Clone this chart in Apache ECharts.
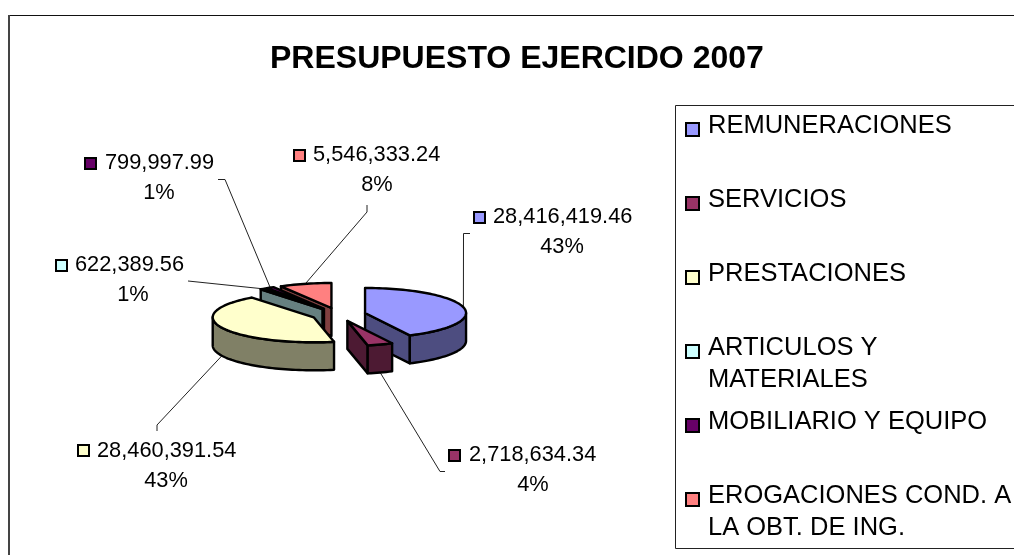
<!DOCTYPE html>
<html>
<head>
<meta charset="utf-8">
<style>
  html, body { margin: 0; padding: 0; background: #fff; }
  #chart { width: 1014px; height: 555px; }
</style>
<script src="https://cdn.jsdelivr.net/npm/echarts@6/dist/echarts.min.js"></script>
</head>
<body>
<div id="chart"></div>
<script>
// datos
const categories = ['REMUNERACIONES', 'SERVICIOS', 'PRESTACIONES', 'ARTICULOS Y\nMATERIALES', 'MOBILIARIO Y EQUIPO', 'EROGACIONES COND. A\nLA OBT. DE ING.']
const values = [28416419.46, 2718634.34, 28460391.54, 622389.56, 799997.99, 5546333.24]

// colores: tapa y costado de cada rebanada
const topColors = ['#9999ff', '#993366', '#ffffcc', '#ccffff', '#660066', '#ff8080']
const sideColors = ['#4d4d80', '#4d1a33', '#808066', '#668080', '#330033', '#804040']

// geometria del pastel
const pie = { cx: 338.5, cy: 314.5, rx: 101, ry: 25, depth: 28, explode: 0.27 }

// posicion de etiquetas: x del texto, y de la linea, x del porcentaje
const labelX = [493, 469, 97, 75, 105, 313]
const labelY = [217, 455, 451, 265, 163, 155]
const pctX = [562, 533, 166, 133, 159, 377]
const swatchX = [473, 448, 77, 55, 84, 293]
const swatchDy = [1, 1, 0, 1, 1, 1]
// quiebres de las lineas guia, del pastel hacia la etiqueta
const leaderPoints = [
  [[463.5, 233.5], [470, 233.5]],
  [[440, 471.5], [445, 471.5]],
  [[157, 425], [157, 431]],
  [[188, 281]],
  [[225, 179.5], [218, 179.5]],
  [[367, 212], [367, 205]]
]

const legendTop = 126
const legendStep = 74
const font = '"Liberation Sans", Arial, sans-serif'
const labelSize = 21.8
const legendSize = 25.5

const total = values.reduce((a, b) => a + b, 0)
const rad = (d) => d * Math.PI / 180

// angulos de reloj acumulados
let acc = 0
const slices = values.map((v) => {
  const a0 = acc
  acc += v / total * 360
  const mid = (a0 + acc) / 2
  return {
    a0,
    a1: acc,
    mid,
    x: pie.cx + pie.rx * pie.explode * Math.sin(rad(mid)),
    y: pie.cy - pie.ry * pie.explode * Math.cos(rad(mid))
  }
})

function rim(s, deg, drop) {
  return [s.x + pie.rx * Math.sin(rad(deg)), s.y - pie.ry * Math.cos(rad(deg)) + (drop || 0)]
}

function arc(s, from, to, drop) {
  const pts = []
  const n = Math.max(2, Math.ceil(Math.abs(to - from) / 2))
  for (let i = 0; i <= n; i++) pts.push(rim(s, from + (to - from) * i / n, drop))
  return pts
}

function poly(points, fill, z2) {
  return {
    type: 'polygon',
    z2,
    shape: { points },
    style: { fill, stroke: '#000', lineWidth: 2.4, lineJoin: 'round' }
  }
}

function text(x, y, str, size, align) {
  return {
    type: 'text',
    z2: 5000,
    x,
    y,
    style: {
      text: str,
      font: size + 'px ' + font,
      fill: '#000',
      align: align || 'left',
      verticalAlign: 'middle',
      lineHeight: 32
    }
  }
}

function swatch(x, y, size, color) {
  return {
    type: 'rect',
    z2: 5000,
    shape: { x, y, width: size, height: size },
    style: { fill: color, stroke: '#000', lineWidth: 2 }
  }
}

function renderItem(params, api) {
  const i = params.dataIndex
  const v = api.value(0)
  const s = slices[i]
  const d = pie.depth
  const apex = [s.x, s.y]
  const z = Math.round(s.y * 10)
  const children = []

  // linea guia
  const anchor = rim(s, s.mid, Math.cos(rad(s.mid)) < 0 ? d : 0)
  children.push({
    type: 'polyline',
    z2: 1,
    shape: { points: [anchor].concat(leaderPoints[i]) },
    style: { fill: 'none', stroke: '#222', lineWidth: 1 }
  })

  // caras radiales que miran al frente
  const radial = (deg) => {
    const p = rim(s, deg)
    return poly([apex, p, [p[0], p[1] + d], [s.x, s.y + d]], sideColors[i], z)
  }
  if (Math.sin(rad(s.a0)) < 0) children.push(radial(s.a0))
  if (Math.sin(rad(s.a1)) > 0) children.push(radial(s.a1))

  // pared exterior
  const from = Math.max(s.a0, 90)
  const to = Math.min(s.a1, 270)
  if (to > from) {
    children.push(poly(arc(s, from, to, 0).concat(arc(s, to, from, d)), sideColors[i], z + 1))
  }

  // tapa
  children.push(poly([apex].concat(arc(s, s.a0, s.a1, 0)), topColors[i], z + 2))

  // etiqueta de datos
  const money = v.toLocaleString('en-US', { minimumFractionDigits: 2, maximumFractionDigits: 2 })
  children.push(swatch(swatchX[i] + 1, labelY[i] - 6 + swatchDy[i], 11, topColors[i]))
  children.push(text(labelX[i], labelY[i], money, labelSize))
  children.push(text(pctX[i], labelY[i] + 30, Math.round(v / total * 100) + '%', labelSize, 'center'))

  // renglon de la leyenda
  const rowY = legendTop + legendStep * i
  const lines = categories[i].split('\n')
  children.push(swatch(686, rowY - 3, 13, topColors[i]))
  lines.forEach((t, k) => children.push(text(708, rowY + k * 32, t, legendSize)))

  return { type: 'group', children }
}

const chart = echarts.init(document.getElementById('chart'), null, { renderer: 'canvas' })
chart.setOption({
  animation: false,
  backgroundColor: '#fff',
  title: {
    text: 'PRESUPUESTO EJERCIDO 2007',
    left: 265,
    top: 38,
    textStyle: { fontFamily: font, fontSize: 32, fontWeight: 'bold', color: '#000' }
  },
  graphic: [
    // marco de la grafica
    { type: 'line', shape: { x1: 8, y1: 15.5, x2: 1014, y2: 15.5 }, style: { stroke: '#111', lineWidth: 1 } },
    { type: 'line', shape: { x1: 9, y1: 15, x2: 9, y2: 555 }, style: { stroke: '#444', lineWidth: 2 } },
    // caja de la leyenda
    { type: 'rect', shape: { x: 675.5, y: 105.5, width: 360, height: 443 }, style: { fill: '#fff', stroke: '#222', lineWidth: 1 }, z: 0 }
  ],
  series: [{
    type: 'custom',
    coordinateSystem: 'none',
    silent: true,
    clip: false,
    z: 5,
    renderItem,
    data: values.map((v) => [v])
  }]
})
</script>
</body>
</html>
